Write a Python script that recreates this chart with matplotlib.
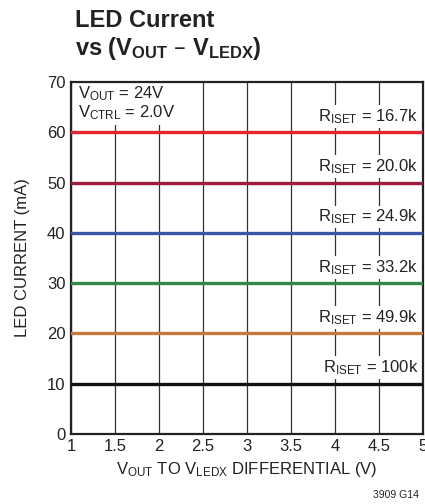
import matplotlib.pyplot as plt
import numpy as np

plt.rcParams['font.family'] = ['Liberation Sans Narrow', 'Liberation Sans', 'DejaVu Sans']
plt.rcParams['mathtext.default'] = 'regular'

vdiff = [1.0, 1.5, 2.0, 2.5, 3.0, 3.5, 4.0, 4.5, 5.0]
currents = [60, 50, 40, 30, 20, 10]
riset_labels = ['16.7k', '20.0k', '24.9k', '33.2k', '49.9k', '100k']
colors = ['#e3262f', '#9c1c3c', '#3b56a6', '#2f8a48', '#c47a3c', '#111111']

fig = plt.figure(figsize=(4.25, 5.04), dpi=100)
ax = fig.add_axes([0.167, 0.139, 0.828, 0.698])

for c, lab, col in zip(currents, riset_labels, colors):
    ax.plot(vdiff, [c] * len(vdiff), color=col, lw=2.4, zorder=3)
    ax.text(4.95, c + 1.3, r'R$_{ISET}$ = ' + lab, ha='right', va='bottom',
            fontsize=12, color='#222222', zorder=2,
            bbox=dict(facecolor='white', edgecolor='none', pad=1.5))

ax.text(1.08, 69.5, 'V$_{OUT}$ = 24V\nV$_{CTRL}$ = 2.0V', ha='left', va='top',
        fontsize=12, color='#222222', linespacing=1.0, zorder=2,
        bbox=dict(facecolor='white', edgecolor='none', pad=2))

ax.set_xlim(1, 5)
ax.set_ylim(0, 70)
ax.set_xticks(np.arange(1, 5.01, 0.5))
ax.set_xticklabels(['1', '1.5', '2', '2.5', '3', '3.5', '4', '4.5', '5'])
ax.set_yticks(range(0, 71, 10))
ax.tick_params(length=0, labelsize=12, colors='#222222', pad=4)
ax.xaxis.grid(True, color='#333333', lw=0.9, zorder=1)
ax.set_axisbelow(True)
for s in ax.spines.values():
    s.set_linewidth(1.6)
    s.set_color('#222222')

ax.set_xlabel('V$_{OUT}$ TO V$_{LEDX}$ DIFFERENTIAL (V)', fontsize=12, color='#222222', labelpad=4)
ax.set_ylabel('LED CURRENT (mA)', fontsize=12, color='#222222', labelpad=12)

fig.text(0.176, 0.982, 'LED Current\nvs (V$_{OUT}$ – V$_{LEDX}$)', ha='left', va='top',
         fontsize=17, fontweight='bold', color='#222222', linespacing=1.15)
fig.text(0.985, 0.008, '3909 G14', ha='right', va='bottom', fontsize=7.5, color='#222222')

fig.savefig('out.png', dpi=100)
